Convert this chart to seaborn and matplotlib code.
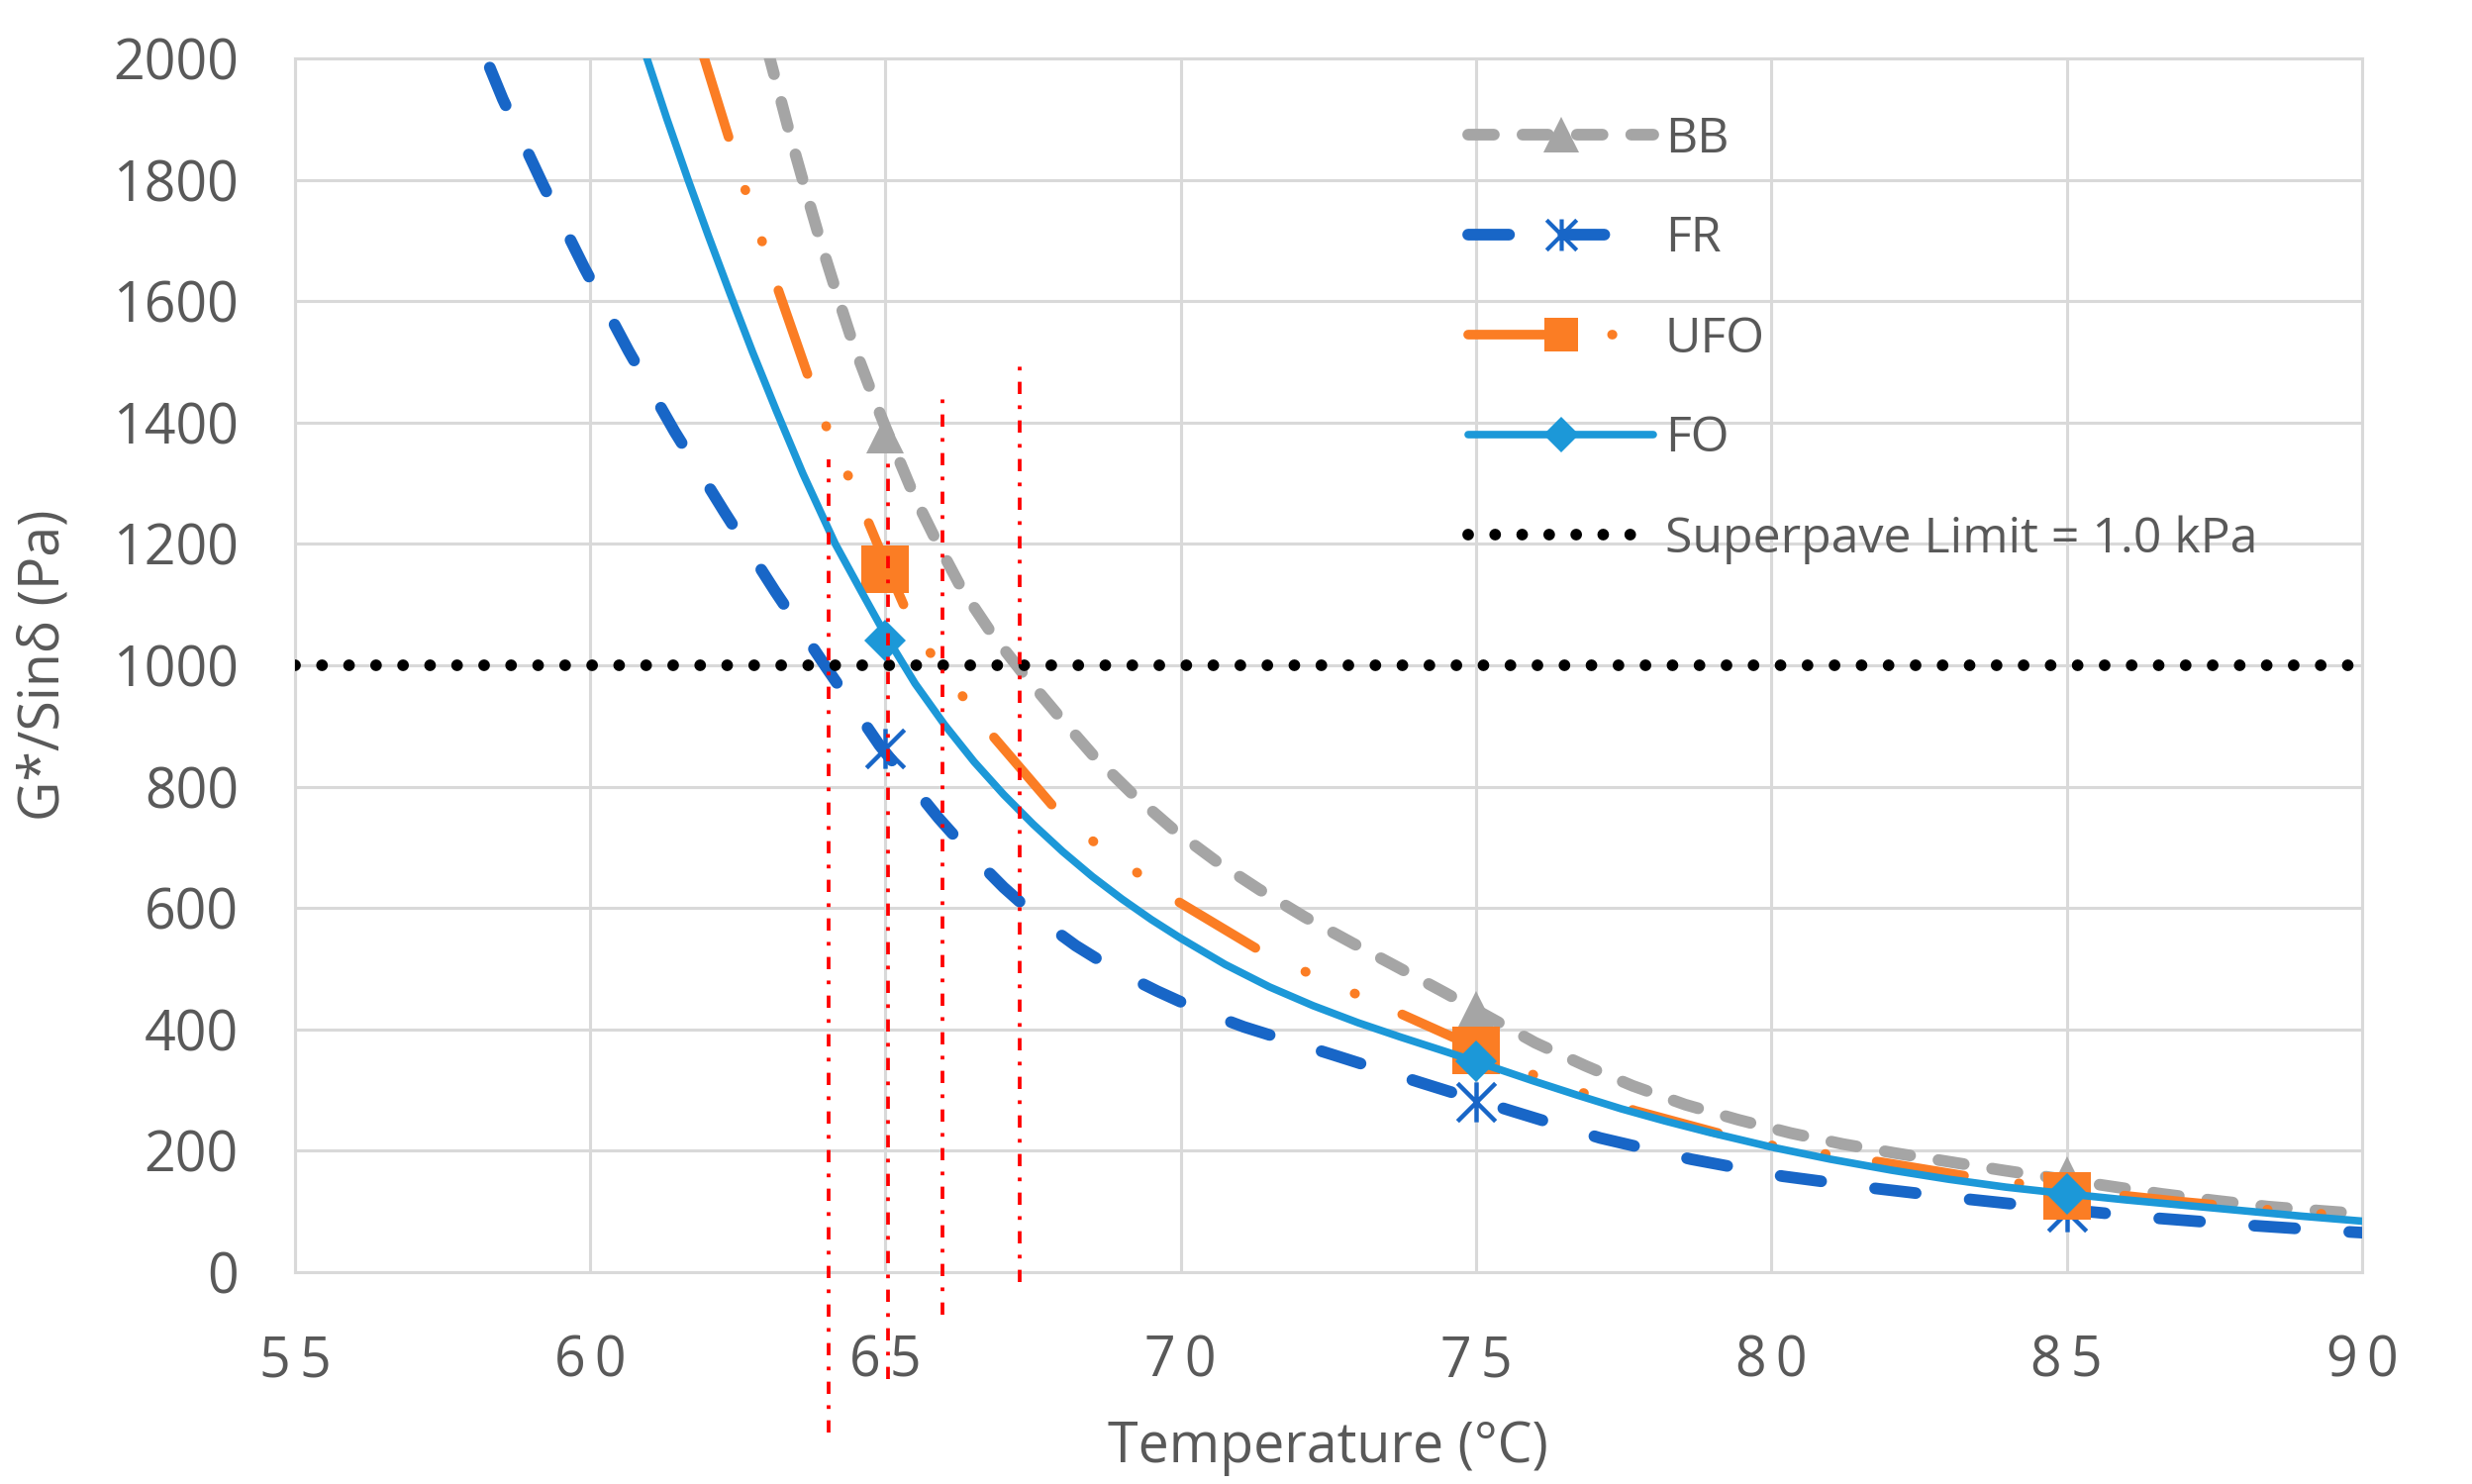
import matplotlib
matplotlib.use("Agg")
import matplotlib.pyplot as plt
from matplotlib.lines import Line2D
from matplotlib.path import Path
from matplotlib.ticker import FixedLocator, MultipleLocator
import seaborn as sns

# binder test results (G*/sin(delta), Pa) at the three test temperatures
test_temps = [65, 75, 85]
bb_points = [1380, 432, 160]
fr_points = [863, 280, 100]
ufo_points = [1158, 365, 126]
fo_points = [1040, 348, 129]

# trend curves
bb_curve_t = [63.0, 63.17, 63.4, 63.65, 63.9, 64.17, 64.45, 64.77, 65.0, 65.48, 65.86, 66.29,
              66.8, 67.3, 67.92, 68.53, 69.18, 69.88, 70.6, 71.32, 72.1, 72.91, 73.7, 74.48,
              75.0, 76.0, 76.85, 77.65, 78.54, 79.44, 80.33, 81.21, 82.1, 83.0, 83.9, 84.8,
              85.7, 86.6, 87.5, 88.4, 89.3, 90.0]
bb_curve_v = [2015, 1953, 1868, 1782, 1698, 1614, 1530, 1448, 1392, 1280, 1205, 1126,
              1052, 990, 918, 850, 788, 729, 677, 631, 585, 542, 501, 460,
              432, 378, 340, 307, 276, 251, 229, 211, 196, 182, 168, 155,
              142, 129, 118, 108, 101, 96]

fr_curve_t = [58.3, 58.52, 59.2, 59.9, 60.65, 61.43, 62.27, 63.13, 64.0, 64.9, 65.9, 66.45,
              67.0, 67.6, 68.22, 68.9, 69.6, 70.3, 71.07, 72.58, 74.07, 75.62, 77.1, 78.64,
              80.19, 81.75, 83.34, 84.9, 86.5, 88.1, 89.65, 90.0]
fr_curve_v = [1985, 1933, 1792, 1655, 1518, 1385, 1253, 1122, 996, 868, 748, 688,
              634, 582, 538, 497, 463, 432, 404, 358, 312, 265, 221, 186,
              158, 138, 120, 104, 89, 77, 67, 65]

ufo_curve_t = [61.9, 62.3, 62.57, 63.1, 63.65, 63.95, 64.61, 65.0, 65.31, 65.74, 66.75, 67.87,
               68.54, 69.93, 71.37, 72.2, 73.74, 75.0, 76.08, 77.69, 79.33, 80.19, 81.87,
               83.5, 85.0, 86.94, 88.5, 90.0]
ufo_curve_v = [2010, 1884, 1800, 1642, 1488, 1404, 1259, 1168, 1099, 1023, 891, 764,
               708, 612, 528, 491, 425, 370, 320, 266, 223, 205, 181,
               155, 136, 116, 102, 91]

fo_curve_t = [60.92, 61.3, 61.65, 62.0, 62.37, 62.75, 63.15, 63.6, 64.15, 64.6, 65.0, 65.5,
              66.0, 66.5, 67.0, 67.5, 68.0, 68.5, 69.0, 69.5, 70.0, 70.75, 71.5, 72.24,
              73.0, 73.73, 74.4, 75.0, 75.97, 76.7, 77.46, 78.2, 78.96, 80.0, 81.0, 82.03,
              83.0, 83.97, 85.0, 86.0, 87.0, 88.0, 89.0, 90.0]
fo_curve_v = [2012, 1900, 1802, 1708, 1612, 1516, 1420, 1316, 1200, 1120, 1050, 970,
              902, 841, 787, 738, 693, 652, 615, 581, 550, 507, 470, 439,
              411, 387, 366, 347, 315, 292, 269, 249, 230, 206, 186, 168,
              153, 140, 129, 119, 110, 101, 92, 84]

# critical-temperature markers (red dash-dot verticals)
crit_temps = [64.03, 65.04, 65.97, 67.27]
crit_top = [1340, 1350, 1455, 1511]
crit_bottom = [-264, -176, -70, -16]

superpave_limit = 1000
series_names = ["BB", "FR", "UFO", "FO"]
limit_label = "Superpave Limit = 1.0 kPa"
x_ticks = [55, 60, 65, 70, 75, 80, 85, 90]
y_ticks = list(range(0, 2001, 200))

# styles
GRID = "#d9d9d9"
TEXT = "#595959"
BB_C, FR_C, UFO_C, FO_C = "#a5a5a5", "#1866c7", "#fb7d24", "#1c98d8"
bb_ls = (0, (2.2, 2.45))
fr_ls = (0, (3.5, 4.65))
ufo_ls = (0, (9.2, 5.75, 0.05, 5.55, 0.05, 5.35))
dot_ls = (0, (0.001, 2.31))
red_ls = (0, (3.3, 3.05, 1.0, 3.05))

star = Path([(-1, -1), (1, 1), (-1, 1), (1, -1), (0, -1.05), (0, 1.05)],
            [Path.MOVETO, Path.LINETO, Path.MOVETO, Path.LINETO, Path.MOVETO, Path.LINETO])

sns.set_style("white")
plt.rcParams["font.family"] = ["Open Sans", "DejaVu Sans"]

fig = plt.figure(figsize=(24.97, 14.99), dpi=100)
ax = fig.add_axes([0.1193, 0.1428, 0.8362, 0.8178])

curves = [
    (bb_curve_t, bb_curve_v, BB_C, 8.5, bb_ls, 3),
    (fr_curve_t, fr_curve_v, FR_C, 8.5, fr_ls, 4),
    (ufo_curve_t, ufo_curve_v, UFO_C, 7.0, ufo_ls, 5),
    (fo_curve_t, fo_curve_v, FO_C, 5.5, "-", 6),
]
for t, v, c, lw, ls, z in curves:
    sns.lineplot(x=t, y=v, ax=ax, color=c, linewidth=lw, linestyle=ls, sort=False,
                 estimator=None, legend=False, zorder=z,
                 dash_capstyle="round", solid_capstyle="round", solid_joinstyle="round")

markers = [
    (bb_points, BB_C, "^", 27, 0, 3.5),
    (fr_points, FR_C, star, 29, 3.2, 4.5),
    (ufo_points, UFO_C, "s", 34, 0, 5.5),
    (fo_points, FO_C, "D", 21, 0, 6.5),
]
for v, c, m, ms, mew, z in markers:
    sns.lineplot(x=test_temps, y=v, ax=ax, color=c, linestyle="", marker=m,
                 markersize=ms, markeredgewidth=mew, markeredgecolor=c,
                 markerfacecolor=("none" if m is star else c),
                 sort=False, estimator=None, legend=False, zorder=z)

ax.axhline(superpave_limit, color="black", linewidth=8.5, linestyle=dot_ls,
           dash_capstyle="round", zorder=7)

for x, b, t in zip(crit_temps, crit_bottom, crit_top):
    sns.lineplot(x=[x, x], y=[b, t], ax=ax, color="#ff0000", linewidth=2.7,
                 linestyle=red_ls, sort=False, estimator=None, legend=False,
                 clip_on=False, zorder=8)

# axes
ax.set_xlim(55, 90)
ax.set_ylim(0, 2000)
ax.xaxis.set_major_locator(FixedLocator(x_ticks))
ax.set_xticklabels(["\u2009".join(str(t)) for t in x_ticks])
ax.xaxis.set_minor_locator(MultipleLocator(1))
ax.yaxis.set_major_locator(FixedLocator(y_ticks))
ax.set_yticklabels([str(v) for v in y_ticks])

ax.grid(True, which="major", color=GRID, linewidth=2.2)
ax.set_axisbelow(True)
for s in ax.spines.values():
    s.set_color(GRID)
    s.set_linewidth(2.2)

ax.tick_params(axis="x", which="major", direction="out", length=14.4, width=2.2,
               color=GRID, labelsize=40, labelcolor=TEXT, pad=31)
ax.tick_params(axis="x", which="minor", direction="in", length=9.4, width=1.6, color=GRID)
ax.tick_params(axis="y", which="major", length=0, labelsize=40, labelcolor=TEXT, pad=41)

ax.set_xlabel("Temperature (°C)", fontsize=40, color=TEXT, labelpad=21)
ax.set_ylabel("G*/Sinδ (Pa)", fontsize=40, color=TEXT, labelpad=29)

# legend
handles = [
    Line2D([], [], color=BB_C, lw=8.5, linestyle=bb_ls, dash_capstyle="round",
           marker="^", markersize=26, markeredgewidth=0),
    Line2D([], [], color=FR_C, lw=8.5, linestyle=fr_ls, dash_capstyle="round",
           marker=star, markersize=23, markeredgewidth=3.0, markeredgecolor=FR_C,
           markerfacecolor="none"),
    Line2D([], [], color=UFO_C, lw=7.0, linestyle=ufo_ls, dash_capstyle="round",
           marker="s", markersize=25, markeredgewidth=0),
    Line2D([], [], color=FO_C, lw=5.5, linestyle="-", marker="D", markersize=18,
           markeredgewidth=0),
    Line2D([], [], color="black", lw=8.5, linestyle=dot_ls, dash_capstyle="round"),
]
ax.legend(handles, series_names + [limit_label], loc="upper left",
          bbox_to_anchor=(1483 / 2497, 1 - 116 / 1499), bbox_transform=fig.transFigure,
          frameon=False, fontsize=36, handlelength=3.74, handletextpad=0.24,
          labelspacing=1.03, borderpad=0, borderaxespad=0, labelcolor=TEXT)

fig.savefig("out.png", dpi=100)
